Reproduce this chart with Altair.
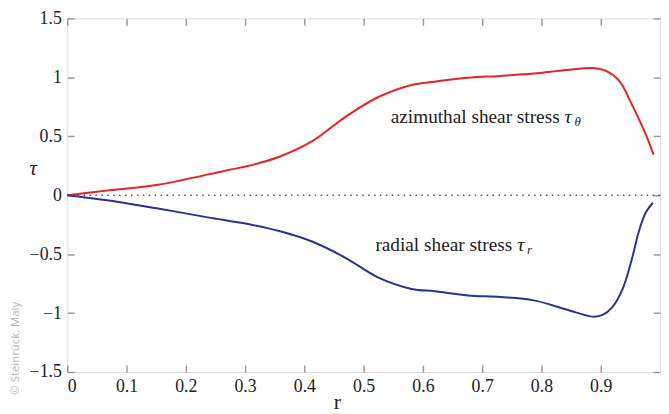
import altair as alt
import pandas as pd

# azimuthal shear stress tau_theta
r_theta = [0, 0.07, 0.153, 0.27, 0.303, 0.359, 0.414, 0.47, 0.525, 0.581, 0.62,
           0.676, 0.731, 0.787, 0.842, 0.887, 0.909, 0.931, 0.953, 0.976, 0.989]
tau_theta = [0, 0.041, 0.088, 0.212, 0.245, 0.328, 0.46, 0.667, 0.833, 0.935, 0.963,
             0.996, 1.012, 1.032, 1.062, 1.079, 1.054, 0.971, 0.764, 0.516, 0.344]

# radial shear stress tau_r
r_rad = [0, 0.07, 0.153, 0.237, 0.303, 0.359, 0.414, 0.47, 0.525, 0.581, 0.62,
         0.676, 0.731, 0.787, 0.842, 0.887, 0.903, 0.92, 0.937, 0.953, 0.964, 0.976, 0.988]
tau_rad = [0, -0.045, -0.113, -0.188, -0.243, -0.306, -0.395, -0.533, -0.699, -0.795, -0.815,
           -0.85, -0.864, -0.892, -0.969, -1.03, -1.016, -0.947, -0.795, -0.533, -0.312, -0.147, -0.064]

x_ticks = [0, 0.1, 0.2, 0.3, 0.4, 0.5, 0.6, 0.7, 0.8, 0.9]
y_ticks = [-1.5, -1, -0.5, 0, 0.5, 1, 1.5]

ann_text = ["azimuthal shear stress", "radial shear stress"]
ann_sym = ["τ", "τ"]
ann_sub = ["θ", "r"]
ann_r = [0.839, 0.759]
ann_tau = [0.66, -0.42]

zero_tau = [0]
watermark = ["© Steinrück, Maly"]

df_theta = pd.DataFrame({"r": r_theta, "tau": tau_theta})
df_rad = pd.DataFrame({"r": r_rad, "tau": tau_rad})
df_ann = pd.DataFrame({"label": ann_text, "sym": ann_sym, "sub": ann_sub,
                       "r": ann_r, "tau": ann_tau})
df_zero = pd.DataFrame({"tau": zero_tau})
df_wm = pd.DataFrame({"t": watermark})

SERIF = "'Liberation Serif', 'Times New Roman', 'DejaVu Serif', serif"
GRAY = "#9a9a9a"
xs = alt.Scale(domain=[0, 1], nice=False, zero=False)
ys = alt.Scale(domain=[-1.5, 1.5], nice=False)

def tick_axis(orient, values):
    return alt.Axis(orient=orient, values=values, offset=-7, tickSize=7, labels=False,
                    domain=False, grid=False, title=None, tickColor=GRAY, tickWidth=1.5)

red = alt.Chart(df_theta).mark_line(color="#ec2227", strokeWidth=2, interpolate="catmull-rom").encode(
    x=alt.X("r:Q", scale=xs, axis=alt.Axis(
        orient="bottom", values=x_ticks, format="~g", ticks=False, domain=False, grid=False,
        labelFont=SERIF, labelFontSize=18, labelColor="#222", labelPadding=6,
        title="r", titleFont=SERIF, titleFontSize=22, titleFontWeight="normal",
        titleColor="#222", titleX=273, titleY=37, titleBaseline="alphabetic", titleAnchor="start",
        titleAlign="center")),
    y=alt.Y("tau:Q", scale=ys, axis=alt.Axis(
        orient="left", values=y_ticks, format="~g", ticks=False, domain=False, grid=False,
        labelFont=SERIF, labelFontSize=18, labelColor="#222", labelPadding=6,
        title="τ", titleFont=SERIF, titleFontSize=21, titleFontStyle="italic",
        titleFontWeight="normal", titleColor="#222", titleAngle=0, titleX=-35, titleY=152,
        titleAlign="center", titleBaseline="middle")),
)

blue = alt.Chart(df_rad).mark_line(color="#2e3192", strokeWidth=2, interpolate="catmull-rom").encode(
    x=alt.X("r:Q", scale=xs, axis=tick_axis("bottom", x_ticks)),
    y=alt.Y("tau:Q", scale=ys, axis=tick_axis("left", y_ticks)),
)

zero = alt.Chart(df_zero).mark_rule(color="#555", strokeWidth=1.5, strokeDash=[1.5, 4.5]).encode(
    y=alt.Y("tau:Q", scale=ys, axis=tick_axis("right", y_ticks)),
)

ann_main = alt.Chart(df_ann).mark_text(font=SERIF, fontSize=19.5, color="#222", align="right",
                                       baseline="middle", dx=-5).encode(
    x=alt.X("r:Q", scale=xs, axis=tick_axis("top", x_ticks)),
    y=alt.Y("tau:Q", scale=ys, axis=None),
    text="label:N",
)
ann_sym_l = alt.Chart(df_ann).mark_text(font=SERIF, fontSize=20, fontStyle="italic", color="#222",
                                        align="left", baseline="middle").encode(
    x=alt.X("r:Q", scale=xs, axis=None),
    y=alt.Y("tau:Q", scale=ys, axis=None),
    text="sym:N",
)
ann_sub_l = alt.Chart(df_ann).mark_text(font=SERIF, fontSize=13, fontStyle="italic", color="#222",
                                        align="left", baseline="middle", dx=10, dy=5).encode(
    x=alt.X("r:Q", scale=xs, axis=None),
    y=alt.Y("tau:Q", scale=ys, axis=None),
    text="sub:N",
)
wm = alt.Chart(df_wm).mark_text(font="Open Sans", fontSize=11.5, color="#b5b5b5", angle=270,
                                align="center", baseline="middle").encode(
    x=alt.value(-52), y=alt.value(334), text="t:N",
)

chart = alt.layer(red, blue, zero, ann_main, ann_sym_l, ann_sub_l, wm).resolve_axis(
    x="independent", y="independent"
).properties(
    width=600, height=358, autosize="none",
    padding={"left": 60, "top": 8, "right": 1, "bottom": 40},
).configure_view(stroke=GRAY, strokeWidth=1.5).configure(background="white")

chart.save("out.html", embed_options={"renderer": "svg", "actions": False})
